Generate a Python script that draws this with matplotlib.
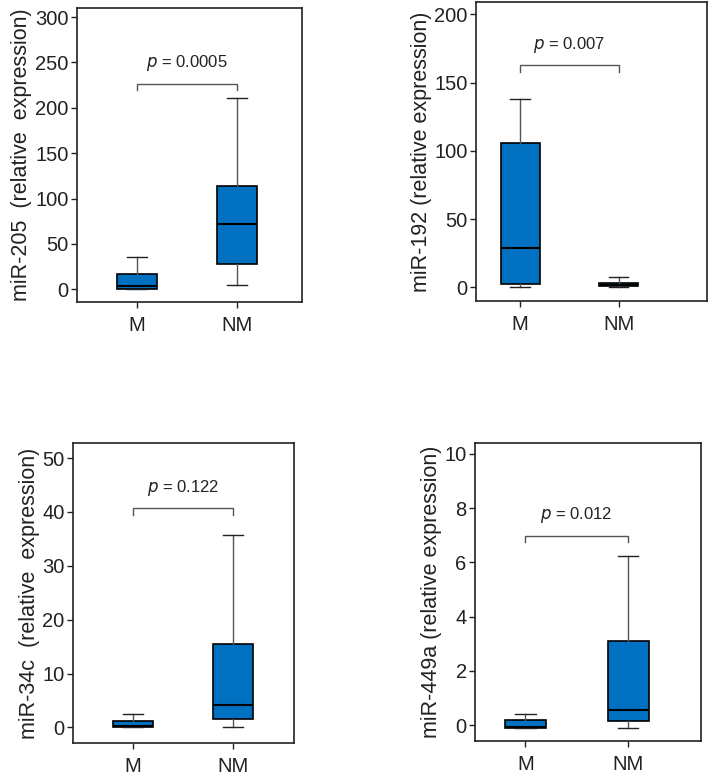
import matplotlib
matplotlib.use("Agg")
import matplotlib.pyplot as plt

plt.rcParams['font.family'] = ['Liberation Sans', 'DejaVu Sans']

groups = ['M', 'NM']

# per panel: [M, NM] five-number summaries
labels = ['miR-205  (relative  expression)', 'miR-192 (relative expression)',
          'miR-34c  (relative  expression)', 'miR-449a (relative expression)']
whislo = [[0.0, 4.4], [0.0, 0.0], [0.0, 0.0], [-0.1, -0.1]]
q1 = [[0.0, 28.0], [2.2, 1.2], [0.0, 1.5], [-0.1, 0.16]]
med = [[3.3, 71.7], [28.8, 1.7], [0.2, 4.1], [-0.08, 0.58]]
q3 = [[17.3, 114.0], [105.4, 2.9], [1.24, 15.5], [0.21, 3.09]]
whishi = [[35.7, 210.7], [137.8, 7.3], [2.4, 35.7], [0.43, 6.24]]
pvals = ['0.0005', '0.007', '0.122', '0.012']
bracket_y = [226.5, 162.7, 40.7, 6.98]
yticks = [[0, 50, 100, 150, 200, 250, 300], [0, 50, 100, 150, 200],
          [0, 10, 20, 30, 40, 50], [0, 2, 4, 6, 8, 10]]
ylims = [(-14, 310), (-10, 209), (-2.9, 52.8), (-0.58, 10.4)]

W, H = 709, 779
# axes boxes in pixels: left, right, top, bottom
boxes_px = [(77, 302, 8, 302), (476, 707, 2, 301),
            (73, 294, 443, 743), (475, 701, 443, 741)]
xlims = [(0.4, 2.65), (0.55, 2.9), (0.4, 2.61), (0.51, 2.71)]

BLUE = '#0070C0'
GRAY = '#555555'
INK = '#222222'

fig = plt.figure(figsize=(W / 100, H / 100), dpi=100)

for i in range(4):
    l, r, t, b = boxes_px[i]
    ax = fig.add_axes([l / W, 1 - b / H, (r - l) / W, (b - t) / H])
    stats = []
    for g in range(2):
        stats.append(dict(label=groups[g], whislo=whislo[i][g], q1=q1[i][g],
                          med=med[i][g], q3=q3[i][g], whishi=whishi[i][g], fliers=[]))
    ax.bxp(stats, positions=[1, 2], widths=0.4, patch_artist=True,
           boxprops=dict(facecolor=BLUE, edgecolor='black', linewidth=1.2),
           medianprops=dict(color='black', linewidth=1.5),
           whiskerprops=dict(color=GRAY, linewidth=1.0),
           capprops=dict(color=INK, linewidth=1.0))

    # significance bracket
    h = (ylims[i][1] - ylims[i][0]) * 0.022
    y = bracket_y[i]
    ax.plot([1, 1, 2, 2], [y - h, y, y, y - h], color=GRAY, linewidth=1.0)
    ax.text(1.5, y + h * 1.6, r'$\it{p}$ = ' + pvals[i], ha='center', va='bottom',
            fontsize=12, color=INK)

    ax.set_xlim(*xlims[i])
    ax.set_ylim(*ylims[i])
    ax.set_yticks(yticks[i])
    ax.set_xticks([1, 2])
    ax.set_xticklabels(groups)
    ax.set_ylabel(labels[i], fontsize=15.5, color=INK, labelpad=2)
    ax.tick_params(axis='both', labelsize=14.5, colors=INK, length=4, width=1, pad=2)
    ax.tick_params(axis='x', pad=6)
    for s in ax.spines.values():
        s.set_color(INK)
        s.set_linewidth(1.2)

fig.savefig('out.png', dpi=100)
